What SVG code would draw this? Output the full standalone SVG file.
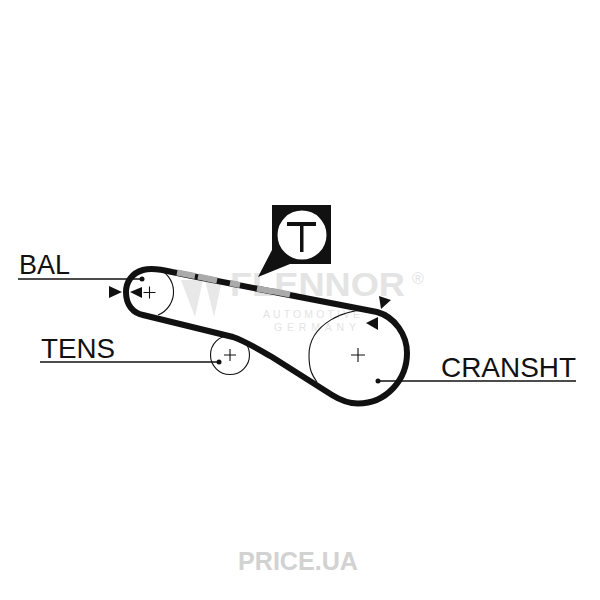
<svg xmlns="http://www.w3.org/2000/svg" width="600" height="600" viewBox="0 0 600 600">
<style>
.lbl{font-family:"Liberation Sans",Arial,sans-serif;font-size:27.500px;fill:#111}
.thin{fill:none;stroke:#111;stroke-width:1.1}
.lead{fill:none;stroke:#111;stroke-width:1.3}
.wm{font-family:"Liberation Sans",Arial,sans-serif;fill:#e4e4e4}
.mark{fill:#111}
</style>
<rect width="600" height="600" fill="#fff"/>
<g id="watermark">
<polygon points="181,280 203,280 195,317" fill="#e8e8e8"/>
<polygon points="205,280 222,280 214,317" fill="#e8e8e8"/>
<text class="wm" x="230" y="296" font-size="33" font-weight="700" textLength="175" lengthAdjust="spacingAndGlyphs">FLENNOR</text>
<text class="wm" x="412" y="284" font-size="16">®</text>
<text class="wm" x="263" y="318" font-size="10.500" textLength="97" lengthAdjust="spacing">AUTOMOTIVE</text>
<text class="wm" x="274" y="331" font-size="10.500" textLength="82" lengthAdjust="spacing">GERMANY</text>
<text class="wm" x="238" y="570" font-size="25" font-weight="700" textLength="120" lengthAdjust="spacingAndGlyphs" style="fill:#d2d2d2">PRICE.UA</text>
</g>
<g id="pulley-bal">
<path class="thin" d="M156,268 A25,25 0 0 1 158,315"/>
<path class="thin" d="M143.500,292.500H155.500M149.500,286.500V298.500"/>
<text class="lbl" x="19" y="274" textLength="51" lengthAdjust="spacingAndGlyphs">BAL</text>
</g>
<g id="pulley-tens">
<circle class="thin" cx="230" cy="355" r="19.500"/>
<path class="thin" d="M224,355H236M230,349V361"/>
<text class="lbl" x="41" y="358" textLength="74" lengthAdjust="spacingAndGlyphs">TENS</text>
</g>
<g id="pulley-cransht">
<path class="thin" d="M376,311 C345,306 309,325 309,355 C309,370 312,375 317,382"/>
<path class="thin" d="M351,355H365M358,348V362"/>
<text class="lbl" x="441" y="377" textLength="135" lengthAdjust="spacingAndGlyphs">CRANSHT</text>
</g>
<g id="connectors">
<path d="M197,277 L172,272 C160,269 150,268 143,270 C132,273 126,282 126,292 C126,305 133,313 143,315 L233,337 C245,341 258,349 272,357 L332,395 C340,400 348,403.500 358,403.500 C386,403.500 407,380 407,353 C407,335 395,317 377,312 L197,277" fill="none" stroke="#111" stroke-width="6" stroke-linejoin="round"/>
<path d="M177,272.500L195,276M198,276.500L217,280.500M230,283L240,285M257,288.500L273,291.500M272,291L290,294.500" fill="none" stroke="#aaa" stroke-width="6"/>
<path class="lead" d="M18,279H142"/>
<path class="lead" d="M40,362H219"/>
<path class="lead" d="M378,381H576"/>
<circle class="mark" cx="142" cy="279" r="2.500"/>
<circle class="mark" cx="219" cy="362" r="2.500"/>
<circle class="mark" cx="378" cy="381" r="2.500"/>
<polygon class="mark" points="109,286 109,298 122,292"/>
<polygon class="mark" points="142,287 142,298 130,292"/>
<polygon class="mark" points="379,296 391,300 381,309"/>
<polygon class="mark" points="378,317 378,330 366,323"/>
</g>
<g id="tension-mark">
<path d="M272,205H331V264H290L258,277L272,250Z" fill="#111"/>
<circle cx="302" cy="235" r="24.500" fill="#fff"/>
<path d="M287,222H316V226H303.500V252H300V226H287Z" fill="#111"/>
</g>
</svg>
